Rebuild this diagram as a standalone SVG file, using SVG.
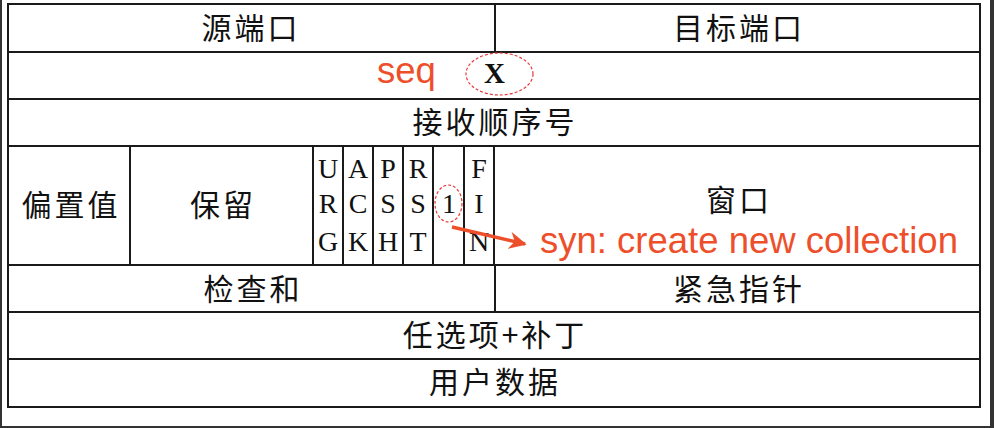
<svg xmlns="http://www.w3.org/2000/svg" width="994" height="428" viewBox="0 0 994 428">
<defs>
<style>
.ln{stroke:#1a1a1a;stroke-width:2;fill:none}
.cj{font-family:"Noto Sans CJK SC","Noto Sans CJK JP",sans-serif;font-size:30px;fill:#111;text-anchor:middle;letter-spacing:3px}
.fl{font-family:"Liberation Serif","Times New Roman",serif;font-size:28px;fill:#111;text-anchor:middle}
.an{font-family:"Liberation Sans",Arial,sans-serif;font-size:36.5px;fill:#ee4f2b}
.el{fill:none;stroke:#e83a3a;stroke-width:1.2;stroke-dasharray:3 2}
</style>
<marker id="ah" viewBox="0 0 10 10" refX="9" refY="5" markerWidth="5" markerHeight="5" orient="auto" markerUnits="strokeWidth">
<path d="M0,0 L10,5 L0,10 L3,5 z" fill="#ee4f2b"/>
</marker>
</defs>
<rect x="0" y="0" width="994" height="428" fill="#fff"/>
<rect x="0" y="0" width="2" height="428" fill="#333"/>
<rect x="990" y="0" width="4" height="428" fill="#333"/>
<rect x="0" y="426" width="994" height="2" fill="#333"/>
<g id="table">
<rect class="ln" x="8" y="4" width="972" height="403"/>
<line class="ln" x1="8" y1="52" x2="980" y2="52"/>
<line class="ln" x1="8" y1="99" x2="980" y2="99"/>
<line class="ln" x1="8" y1="146" x2="980" y2="146"/>
<line class="ln" x1="8" y1="265" x2="980" y2="265"/>
<line class="ln" x1="8" y1="312" x2="980" y2="312"/>
<line class="ln" x1="8" y1="359" x2="980" y2="359"/>
<line class="ln" x1="495" y1="4" x2="495" y2="52"/>
<line class="ln" x1="495" y1="265" x2="495" y2="312"/>
<line class="ln" x1="130" y1="146" x2="130" y2="265"/>
<line class="ln" x1="313" y1="146" x2="313" y2="265"/>
<line class="ln" x1="343" y1="146" x2="343" y2="265"/>
<line class="ln" x1="373" y1="146" x2="373" y2="265"/>
<line class="ln" x1="403" y1="146" x2="403" y2="265"/>
<line class="ln" x1="433" y1="146" x2="433" y2="265"/>
<line class="ln" x1="464" y1="146" x2="464" y2="265"/>
<line class="ln" x1="494" y1="146" x2="494" y2="265"/>
</g>
<g id="src-port"><text class="cj" x="251" y="39">源端口</text></g>
<g id="dst-port"><text class="cj" x="739" y="39">目标端口</text></g>
<g id="seq-row"><text x="494.5" y="83" font-family="Liberation Serif,serif" font-size="29" font-weight="bold" fill="#111" text-anchor="middle">X</text></g>
<g id="ack"><text class="cj" x="495" y="133">接收顺序号</text></g>
<g id="offset"><text class="cj" x="71" y="216">偏置值</text></g>
<g id="reserved"><text class="cj" x="223" y="216">保留</text></g>
<g id="urg"><text class="fl" x="328" y="178">U</text><text class="fl" x="328" y="213">R</text><text class="fl" x="328" y="251">G</text></g>
<g id="ack-flag"><text class="fl" x="358" y="178">A</text><text class="fl" x="358" y="213">C</text><text class="fl" x="358" y="251">K</text></g>
<g id="psh"><text class="fl" x="388" y="178">P</text><text class="fl" x="388" y="213">S</text><text class="fl" x="388" y="251">H</text></g>
<g id="rst"><text class="fl" x="418" y="178">R</text><text class="fl" x="418" y="213">S</text><text class="fl" x="418" y="251">T</text></g>
<g id="syn"><text class="fl" x="449" y="213">1</text></g>
<g id="fin"><text class="fl" x="479" y="178">F</text><text class="fl" x="479" y="213">I</text><text class="fl" x="479" y="251">N</text></g>
<g id="window"><text class="cj" x="739" y="211">窗口</text></g>
<g id="checksum"><text class="cj" x="253" y="300">检查和</text></g>
<g id="urgent"><text class="cj" x="739" y="300">紧急指针</text></g>
<g id="options"><text class="cj" x="495" y="346">任选项+补丁</text></g>
<g id="data"><text class="cj" x="495" y="393">用户数据</text></g>
<g id="annotations">
<text class="an" x="377" y="83">seq</text>
<ellipse class="el" cx="499.5" cy="74" rx="33.5" ry="21"/>
<ellipse class="el" cx="448.5" cy="203.5" rx="13.5" ry="18.5"/>
<text class="an" x="540" y="253">syn: create new collection</text>
</g>
<g id="connectors">
<line x1="452" y1="227" x2="525" y2="244" stroke="#ee4f2b" stroke-width="3.5" marker-end="url(#ah)"/>
</g>
</svg>
